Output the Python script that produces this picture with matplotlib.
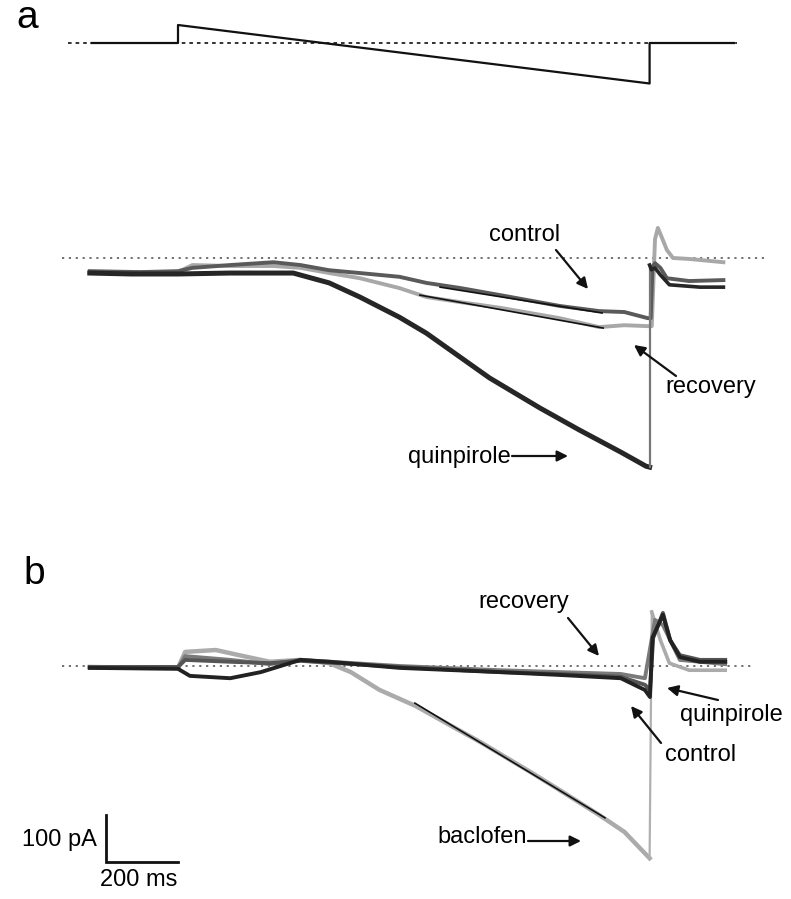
import matplotlib
matplotlib.use("Agg")
import matplotlib.pyplot as plt

plt.rcParams['font.family'] = ['Liberation Sans', 'DejaVu Sans']

# ---------------- data (time in ms from ramp onset, current in pA, voltage in mV)
volt_t = [-240, 0, 0, 1310, 1310, 1545]
volt_v = [-60, -60, -40, -105, -60, -60]
volt_hold = -60

# panel a
a_quin_t = [-245, -130, 0, 145, 320, 420, 505, 615, 690, 865, 1005, 1115, 1230, 1300, 1310,
            1310, 1315, 1325, 1340, 1365, 1450, 1515]
a_quin_i = [-32, -34, -34, -32, -32, -53, -83, -126, -160, -255, -319, -366, -413, -443, -445,
            -15, -25, -21, -36, -57, -62, -62]
a_ctrl_t = [-245, -105, 0, 40, 145, 265, 340, 420, 505, 615, 690, 785, 895, 1060, 1170, 1240,
            1305, 1313, 1318, 1325, 1340, 1358, 1420, 1515]
a_ctrl_i = [-28, -30, -28, -21, -15, -9, -15, -26, -32, -40, -53, -64, -79, -102, -113, -115,
            -128, -128, -19, -11, -21, -43, -49, -47]
a_rec_t = [-245, 0, 40, 145, 265, 340, 420, 505, 615, 690, 785, 895, 1060, 1170, 1240, 1305,
           1316, 1325, 1333, 1347, 1358, 1375, 1420, 1515]
a_rec_i = [-30, -30, -15, -17, -17, -21, -32, -43, -64, -83, -94, -106, -128, -147, -143, -145,
           -145, 40, 64, 38, 17, 0, -2, -9]
a_ctrl_fit_t = [728, 1178]
a_ctrl_fit_i = [-62, -117]
a_rec_fit_t = [672, 1181]
a_rec_fit_i = [-79, -149]

# panel b
b_bac_t = [-245, -105, 0, 20, 105, 170, 255, 340, 420, 480, 560, 660, 840, 980, 1060, 1170,
           1240, 1310, 1316, 1340, 1365, 1420, 1520]
b_bac_i = [-2, -4, -4, 30, 34, 23, 9, 13, 6, -13, -51, -85, -162, -226, -264, -317,
           -353, -409, 115, 55, 6, -9, -9]
b_ctrl_t = [-245, 0, 33, 145, 230, 340, 420, 615, 895, 1060, 1230, 1297, 1311,
            1318, 1347, 1367, 1394, 1450, 1520]
b_ctrl_i = [-4, -6, -21, -26, -13, 13, 9, -4, -13, -19, -26, -51, -66,
            60, 109, 55, 19, 9, 9]
b_quin_t = [-245, 0, 20, 145, 255, 340, 615, 895, 1060, 1230, 1297, 1311,
            1320, 1347, 1367, 1394, 1450, 1520]
b_quin_i = [-2, -2, 13, 9, 6, 11, -2, -13, -17, -23, -40, -51,
            60, 113, 55, 23, 13, 13]
b_rec_t = [-245, 0, 20, 145, 255, 340, 615, 895, 1060, 1230, 1297,
           1325, 1347, 1394, 1520]
b_rec_i = [-4, -4, 21, 13, 4, 13, 0, -9, -13, -17, -26,
           98, 87, 13, 4]
b_bac_fit_t = [658, 1186]
b_bac_fit_i = [-79, -323]

scale_t = [-200, -200, 0]
scale_i = [-317, -417, -417]

# ---------------- layout helpers
W, H = 791, 899
X0_PX, PX_PER_MS = 178, 0.36
PX_PER_PA = 0.47
PX_PER_MV = 0.9

fig = plt.figure(figsize=(W / 100, H / 100), dpi=100)

def full_axes():
    ax = fig.add_axes([0, 0, 1, 1])
    ax.axis('off')
    ax.patch.set_alpha(0)
    ax.set_xlim((0 - X0_PX) / PX_PER_MS, (W - X0_PX) / PX_PER_MS)
    return ax

def tx(px):
    return (px - X0_PX) / PX_PER_MS

# voltage panel
axv = full_axes()
base_v = 43
axv.set_ylim(volt_hold - (H - base_v) / PX_PER_MV, volt_hold + base_v / PX_PER_MV)
axv.plot([tx(68), tx(737)], [volt_hold, volt_hold], color='#222222', lw=1.3,
         ls=(0, (2, 2.2)))
axv.plot(volt_t, volt_v, color='#111111', lw=1.6)

# panel a currents
axa = full_axes()
base_a = 258
axa.set_ylim((base_a - H) / PX_PER_PA, base_a / PX_PER_PA)
axa.plot([tx(62), tx(766)], [0, 0], color='#666666', lw=1.3, ls=(0, (1.2, 2.6)))
axa.plot(a_rec_t, a_rec_i, color='#a8a8a8', lw=2.8, solid_joinstyle='round')
axa.plot(a_ctrl_t, a_ctrl_i, color='#5a5a5a', lw=2.8, solid_joinstyle='round')
n = 15
axa.plot(a_quin_t[:n], a_quin_i[:n], color='#262626', lw=3.6, solid_joinstyle='round')
axa.plot(a_quin_t[n - 1:n + 1], a_quin_i[n - 1:n + 1], color='#777777', lw=1.6)
axa.plot(a_quin_t[n:], a_quin_i[n:], color='#262626', lw=2.6, solid_joinstyle='round')
axa.plot(a_ctrl_fit_t, a_ctrl_fit_i, color='#111111', lw=1.2)
axa.plot(a_rec_fit_t, a_rec_fit_i, color='#111111', lw=1.2)

# panel b currents
axb = full_axes()
base_b = 666
axb.set_ylim((base_b - H) / PX_PER_PA, base_b / PX_PER_PA)
axb.plot([tx(62), tx(752)], [0, 0], color='#666666', lw=1.3, ls=(0, (1.2, 2.6)))
m = 18
axb.plot(b_bac_t[:m], b_bac_i[:m], color='#ababab', lw=3.2, solid_joinstyle='round')
axb.plot(b_bac_t[m - 1:m + 1], b_bac_i[m - 1:m + 1], color='#b0b0b0', lw=1.6)
axb.plot(b_bac_t[m:], b_bac_i[m:], color='#ababab', lw=2.6, solid_joinstyle='round')
axb.plot(b_rec_t, b_rec_i, color='#7a7a7a', lw=2.8, solid_joinstyle='round')
axb.plot(b_quin_t, b_quin_i, color='#555555', lw=2.8, solid_joinstyle='round')
axb.plot(b_ctrl_t, b_ctrl_i, color='#222222', lw=2.8, solid_joinstyle='round')
axb.plot(b_bac_fit_t, b_bac_fit_i, color='#111111', lw=1.2)
axb.plot(scale_t, scale_i, color='#111111', lw=2.0, solid_joinstyle='miter')

# text overlay in pixel coordinates
axt = fig.add_axes([0, 0, 1, 1])
axt.axis('off')
axt.patch.set_alpha(0)
axt.set_xlim(0, W)
axt.set_ylim(H, 0)

fs = 17
axt.text(27, 18, 'a', fontsize=28, ha='center', va='center')
axt.text(34, 574, 'b', fontsize=28, ha='center', va='center')

def label(txt, x, y, tail, head, ha='center'):
    axt.text(x, y, txt, fontsize=fs, ha=ha, va='center')
    axt.annotate('', xy=head, xytext=tail,
                 arrowprops=dict(arrowstyle='-|>', color='#111111', lw=1.6,
                                 mutation_scale=16, shrinkA=0, shrinkB=0))

label('control', 525, 235, (556, 250), (588, 289))
label('recovery', 711, 387, (676, 376), (634, 345))
label('quinpirole', 459, 457, (512, 456), (568, 456))

label('recovery', 524, 602, (568, 618), (599, 656))
label('quinpirole', 731, 715, (718, 700), (667, 688))
label('control', 701, 755, (661, 743), (631, 706))
label('baclofen', 482, 837, (528, 841), (581, 841))

axt.text(97, 840, '100 pA', fontsize=fs, ha='right', va='center')
axt.text(100, 880, '200 ms', fontsize=fs, ha='left', va='center')

fig.savefig('out.png', dpi=100)
